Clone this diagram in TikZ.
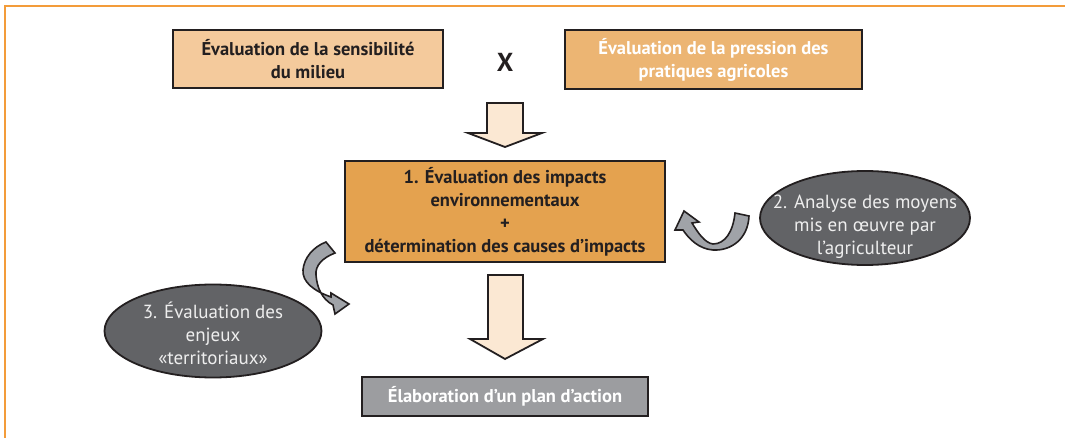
\documentclass[tikz,border=0pt]{standalone}
\usepackage{fontspec}
\setmainfont{PT Sans}
\usetikzlibrary{shapes.geometric,calc}
\definecolor{frameorange}{HTML}{F39C3A}
\definecolor{edge}{HTML}{231F20}
\definecolor{peach}{HTML}{F4CA9C}
\definecolor{tan}{HTML}{ECB573}
\definecolor{orangebox}{HTML}{E4A24F}
\definecolor{graybox}{HTML}{9C9DA0}
\definecolor{cream}{HTML}{FBE8D3}
\definecolor{ellfill}{HTML}{626366}
\definecolor{curvefill}{HTML}{A0A3A8}
\definecolor{elltext}{HTML}{EEEEEE}
\tikzset{
  boxstyle/.style={draw=edge, line width=2pt, rectangle, align=center, inner sep=0pt,
    font=\fontsize{18.5}{23}\selectfont\bfseries},
  ellstyle/.style={draw=edge, line width=1.8pt, ellipse, fill=ellfill, inner sep=0pt},
  elltextstyle/.style={text=elltext, align=center, inner sep=0pt, font=\fontsize{19}{23}\selectfont},
  blockarrow/.style={draw=edge, line width=1.8pt, fill=cream, line join=miter},
  curvearrow/.style={draw=edge, line width=1.6pt, fill=curvefill, line join=miter},
}
\begin{document}
\begin{tikzpicture}[x=1pt,y=-1pt]
\useasboundingbox (0,0) rectangle (1065,438);
\fill[white] (0,0) rectangle (1065,438);
\draw[frameorange, line width=1.5pt] (5,438) -- (5,6) -- (1065,6);

\node[boxstyle, fill=peach, text=edge, minimum width=270pt, minimum height=58pt] (sens) at (308,59)
  {Évaluation de la sensibilité\\du milieu};
\node[font=\fontsize{26}{28}\selectfont\bfseries, text=edge] (times) at (505,62) {X};
\node[boxstyle, fill=tan, text=white, minimum width=297pt, minimum height=59pt] (press) at (713.5,59.5)
  {Évaluation de la pression des\\pratiques agricoles};
\node[boxstyle, fill=orangebox, text=edge, minimum width=320pt, minimum height=101pt] (impacts) at (505,211.5)
  {1. Évaluation des impacts\\environnementaux\\+\\détermination des causes d’impacts};
\node[boxstyle, fill=graybox, text=white, minimum width=286pt, minimum height=39pt] (plan) at (505,396.5)
  {Élaboration d’un plan d’action};

\node[ellstyle, minimum width=210pt, minimum height=94pt] (moyens) at (865,218) {};
\node[elltextstyle] (moyenstext) at ($(moyens.center)+(0,9)$)
  {2. Analyse des moyens\\mis en œuvre par\\l’agriculteur};
\node[ellstyle, minimum width=217pt, minimum height=93pt] (enjeux) at (213,331) {};
\node[elltextstyle] (enjeuxtext) at ($(enjeux.center)+(0,2)$)
  {3. Évaluation des\\enjeux\\«territoriaux»};

% block arrow 1
\draw[blockarrow] (487,103) -- (523,103) -- (523,133) -- (542,133) -- (505,147) -- (468,133) -- (487,133) -- cycle;
% block arrow 2
\draw[blockarrow] (488,275) -- (523,275) -- (523,339) -- (543,339) -- (505,359) -- (470,339) -- (488,339) -- cycle;

% right curved arrow (from moyens towards impacts)
\draw[curvearrow] (735,213) -- (749,216) .. controls (748,239) and (731,251) .. (713,250)
  .. controls (699,249) and (689,239) .. (683,230) -- (675,230) -- (684,211) -- (699,222) -- (692,223)
  .. controls (698,233) and (705,243) .. (713,244) .. controls (725,244) and (733,232) .. (735,213) -- cycle;

% left curved arrow (from impacts towards enjeux)
\draw[curvearrow] (326,242) -- (335,253) .. controls (322,258) and (315,266) .. (316,275)
  .. controls (317,288) and (322,299) .. (333,305) -- (335,314) -- (349,304) -- (331,293) -- (331,297)
  .. controls (314,291) and (302,282) .. (303,270) .. controls (304,258) and (313,247) .. (326,242) -- cycle;
\end{tikzpicture}
\end{document}
